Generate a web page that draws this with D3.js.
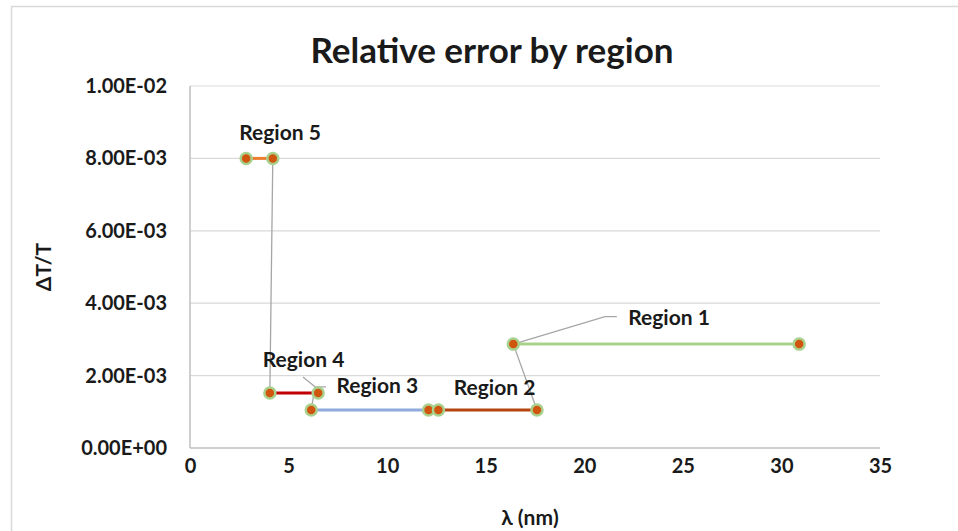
<!DOCTYPE html>
<html>
<head>
<meta charset="utf-8">
<script src="https://cdn.jsdelivr.net/npm/d3@7"></script>
<style>
  html, body { margin: 0; padding: 0; background: #fff; }
  svg { display: block; }
  text { font-family: Lato, "Open Sans", sans-serif; font-weight: bold; fill: #1a1a1a; }
</style>
</head>
<body>
<svg id="chart" width="958" height="531"></svg>
<script>
// Each region: wavelength range (nm) and relative error
const regionNames = ["Region 1", "Region 2", "Region 3", "Region 4", "Region 5"];
const regionX = [[16.4, 30.9], [12.6, 17.6], [6.15, 12.1], [4.05, 6.5], [2.85, 4.2]];
const regionY = [2.87e-3, 1.05e-3, 1.05e-3, 1.52e-3, 8.0e-3];
const regionColors = ["#a9d18e", "#b5450f", "#8faadc", "#c00000", "#ed7d31"];

const xTicks = [0, 5, 10, 15, 20, 25, 30, 35];
const yTicks = [0, 0.002, 0.004, 0.006, 0.008, 0.01];
const yTickLabels = ["0.00E+00", "2.00E-03", "4.00E-03", "6.00E-03", "8.00E-03", "1.00E-02"];

// Label centres (data units) and leader polylines
const labelPos = [[24.3, 3.59e-3], [15.45, 1.66e-3], [9.5, 1.71e-3], [5.76, 2.43e-3], [4.57, 8.7e-3]];
const leaders = [
  [[16.4, 2.87e-3], [21.05, 3.63e-3], [21.65, 3.63e-3]],
  [[16.4, 2.87e-3], [17.6, 1.05e-3]],
  [[4.2, 8.0e-3], [4.05, 1.52e-3]],
  [[5.73, 1.96e-3], [6.34, 1.69e-3]],
  [[6.15, 1.05e-3], [6.34, 1.69e-3], [6.9, 1.69e-3]]
];

const svg = d3.select("#chart");
const margin = { left: 190, right: 78, top: 86, bottom: 83 };
const W = 958, H = 531;

// outer chart frame
svg.append("rect")
  .attr("x", 11.5).attr("y", 6.5)
  .attr("width", 960).attr("height", 540)
  .attr("fill", "none").attr("stroke", "#d9d9d9").attr("stroke-width", 1.5);

const x = d3.scaleLinear().domain([0, 35]).range([margin.left, W - margin.right]);
const y = d3.scaleLinear().domain([0, 0.01]).range([H - margin.bottom, margin.top]);

// horizontal gridlines
svg.append("g").selectAll("line").data(yTicks.slice(1)).join("line")
  .attr("x1", x(0)).attr("x2", x(35))
  .attr("y1", d => y(d)).attr("y2", d => y(d))
  .attr("stroke", "#d9d9d9").attr("stroke-width", 1.2);

// axes lines
svg.append("line").attr("x1", x(0)).attr("x2", x(35)).attr("y1", y(0)).attr("y2", y(0))
  .attr("stroke", "#bfbfbf").attr("stroke-width", 1.5);
svg.append("line").attr("x1", x(0)).attr("x2", x(0)).attr("y1", y(0)).attr("y2", y(0.01))
  .attr("stroke", "#bfbfbf").attr("stroke-width", 1.5);

// tick labels
const xAxis = d3.axisBottom(x).tickValues(xTicks).tickSize(0).tickPadding(11);
const gx = svg.append("g").attr("transform", `translate(0,${y(0)})`).call(xAxis);
gx.select(".domain").remove();
gx.selectAll("text").style("font-size", "20px").style("font-family", "Lato, sans-serif")
  .style("font-weight", "bold").attr("fill", "#1a1a1a");

const yAxis = d3.axisLeft(y).tickValues(yTicks).tickSize(0).tickPadding(23)
  .tickFormat((d, i) => yTickLabels[i]);
const gy = svg.append("g").attr("transform", `translate(${x(0)},0)`).call(yAxis);
gy.select(".domain").remove();
gy.selectAll("text").style("font-size", "20px").style("font-family", "Lato, sans-serif")
  .style("font-weight", "bold").attr("fill", "#1a1a1a");

// title and axis titles
svg.append("text").attr("x", 492).attr("y", 63).attr("text-anchor", "middle")
  .style("font-size", "35px").text("Relative error by region");
svg.append("text").attr("x", 530).attr("y", 525).attr("text-anchor", "middle")
  .style("font-size", "21px").text("λ (nm)");
svg.append("text").attr("transform", `translate(51,${y(0.005)}) rotate(-90)`)
  .attr("text-anchor", "middle").style("font-size", "21px").text("ΔT/T");

// leader lines
const line = d3.line().x(d => x(d[0])).y(d => y(d[1]));
svg.append("g").selectAll("path").data(leaders).join("path")
  .attr("d", line).attr("fill", "none").attr("stroke", "#a6a6a6").attr("stroke-width", 1.3);

// region segments
const regions = regionNames.map((n, i) => ({ name: n, xs: regionX[i], y: regionY[i], color: regionColors[i] }));
svg.append("g").selectAll("line").data(regions).join("line")
  .attr("x1", d => x(d.xs[0])).attr("x2", d => x(d.xs[1]))
  .attr("y1", d => y(d.y)).attr("y2", d => y(d.y))
  .attr("stroke", d => d.color).attr("stroke-width", 3);

// end markers (drawn from last region to first so region 2 sits above region 3)
const pts = [];
for (let i = regions.length - 1; i >= 0; i--) {
  regions[i].xs.forEach(v => pts.push([v, regions[i].y]));
}
svg.append("g").selectAll("circle").data(pts).join("circle")
  .attr("cx", d => x(d[0])).attr("cy", d => y(d[1])).attr("r", 5.5)
  .attr("fill", "#d0560f").attr("stroke", "#a9d18e").attr("stroke-width", 2.5);

// region labels
svg.append("g").selectAll("text").data(regions).join("text")
  .attr("x", (d, i) => x(labelPos[i][0])).attr("y", (d, i) => y(labelPos[i][1]))
  .attr("text-anchor", "middle").attr("dy", "0.35em")
  .style("font-size", "21px").text(d => d.name);
</script>
</body>
</html>
